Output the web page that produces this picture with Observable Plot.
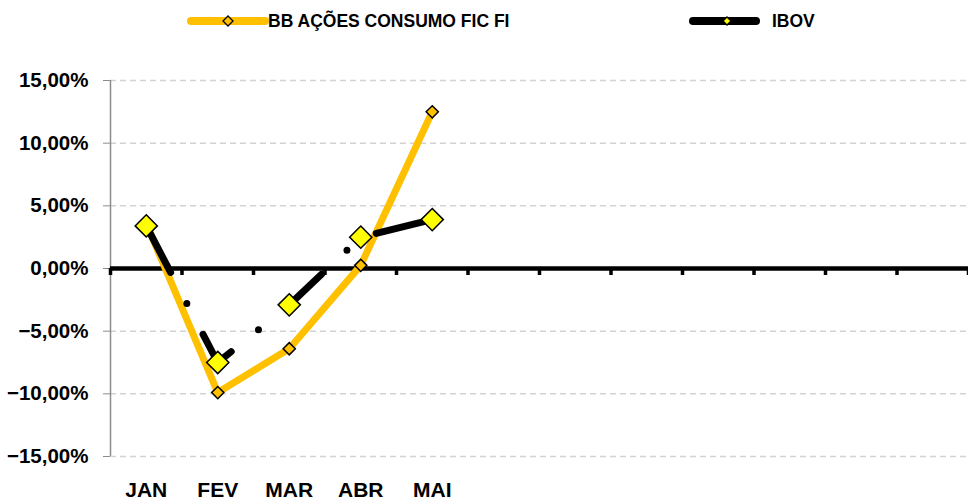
<!DOCTYPE html>
<html><head><meta charset="utf-8">
<script src="https://cdn.jsdelivr.net/npm/d3@7"></script>
<script src="https://cdn.jsdelivr.net/npm/@observablehq/plot@0.6"></script>
<style>
body{margin:0;background:#fff;}
#wrap{position:relative;width:968px;height:501px;font-family:"Liberation Sans",Arial,sans-serif;background:#fff;}
#legend{position:absolute;left:0;top:0;width:968px;height:40px;}
#chart{position:absolute;left:0;top:40px;}
.lg{position:absolute;top:0;height:42px;display:flex;align-items:center;font-weight:bold;font-size:17.5px;color:#000;white-space:nowrap;}
.sw{position:absolute;top:0;}
</style></head><body>
<div id="wrap"><div id="legend"></div><div id="chart"></div></div>
<script>
const months = ["JAN","FEV","MAR","ABR","MAI","JUN","JUL","AGO","SET","OUT","NOV","DEZ"];
const tickLabels = ["JAN","FEV","MAR","ABR","MAI"];
const seriesNames = ["BB AÇÕES CONSUMO FIC FI", "IBOV"];
const bbValues = [3.6, -9.9, -6.4, 0.25, 12.5];
const ibovValues = [3.4, -7.5, -2.9, 2.5, 3.9];
const yTicks = [-15, -10, -5, 0, 5, 10, 15];

const bb = tickLabels.map((m, i) => ({month: m, value: bbValues[i]}));
const ibov = tickLabels.map((m, i) => ({month: m, value: ibovValues[i]}));

// Legend
const legend = document.getElementById("legend");
function diamond(cx, cy, h, fill) {
  return `<path d="M${cx},${cy-h}L${cx+h},${cy}L${cx},${cy+h}L${cx-h},${cy}Z" fill="${fill}" stroke="#000" stroke-width="1.3"/>`;
}
legend.innerHTML = `
<svg class="sw" style="left:183px" width="90" height="42"><line x1="8" x2="82" y1="21" y2="21" stroke="#FFC000" stroke-width="8" stroke-linecap="round"/>${diamond(45,21,5,"#FFC000")}</svg>
<div class="lg" style="left:268px">${seriesNames[0]}</div>
<svg class="sw" style="left:685px" width="80" height="42"><line x1="8" x2="71" y1="21" y2="21" stroke="#000" stroke-width="8" stroke-linecap="round"/>${diamond(42,21,4,"#FFFF00")}</svg>
<div class="lg" style="left:772px">${seriesNames[1]}</div>`;

const W = 968, H = 461, mL = 110, mR = 0, mT = 40, mB = 45;
const step = (W - mL - mR) / months.length;
const fmt = d => d3.format(".2f")(d).replace(".", ",") + "%";
const font = '"Liberation Sans", Arial, sans-serif';

const plot = Plot.plot({
  width: W, height: H,
  marginLeft: mL, marginRight: mR, marginTop: mT, marginBottom: mB,
  style: {fontFamily: font, background: "white", overflow: "visible"},
  x: {type: "point", domain: months, padding: 0.5, round: false},
  y: {domain: [-15, 15]},
  marks: [
    Plot.gridY(yTicks.filter(d => d !== 0), {stroke: "#d3d3d3", strokeOpacity: 1, strokeWidth: 1.5, strokeDasharray: "6,4"}),
    Plot.ruleX([months[0]], {dx: -step / 2, y1: -15, y2: 15, stroke: "#8c8c8c", strokeWidth: 1.5}),
    Plot.axisY(yTicks, {tickFormat: fmt, tickSize: 7, tickPadding: 15, stroke: "#8c8c8c", fill: "black", fontSize: 20.5, fontWeight: "bold", label: null}),
    Plot.axisX(months, {tickFormat: d => tickLabels.includes(d) ? d : "", tickSize: 0, tickPadding: 26, fill: "black", fontSize: 21, fontWeight: "bold", label: null}),
    Plot.ruleY([0], {stroke: "black", strokeWidth: 4.5}),
    Plot.ruleX(months, {x: d => d, dx: -step / 2, y1: 0, y2: 0, insetBottom: -7, stroke: "black", strokeWidth: 3.5}),
    Plot.ruleX(months.slice(-1), {x: d => d, dx: step / 2, y1: 0, y2: 0, insetBottom: -7, stroke: "black", strokeWidth: 3.5}),
    Plot.line(bb, {x: "month", y: "value", stroke: "#FFC000", strokeWidth: 7, strokeLinejoin: "round"}),
    Plot.line(ibov, {x: "month", y: "value", stroke: "black", strokeWidth: 7, strokeDasharray: "49,35,0,35", strokeDashoffset: -3.5, strokeLinecap: "round", strokeLinejoin: "round"}),
    Plot.dot(bb, {x: "month", y: "value", symbol: "diamond2", r: 5.5, fill: "#FFC000", stroke: "black", strokeWidth: 1.5}),
    Plot.dot(ibov, {x: "month", y: "value", symbol: "diamond2", r: 10, fill: "#FFFF00", stroke: "black", strokeWidth: 1.5})
  ]
});
document.getElementById("chart").appendChild(plot);
</script>
</body></html>
